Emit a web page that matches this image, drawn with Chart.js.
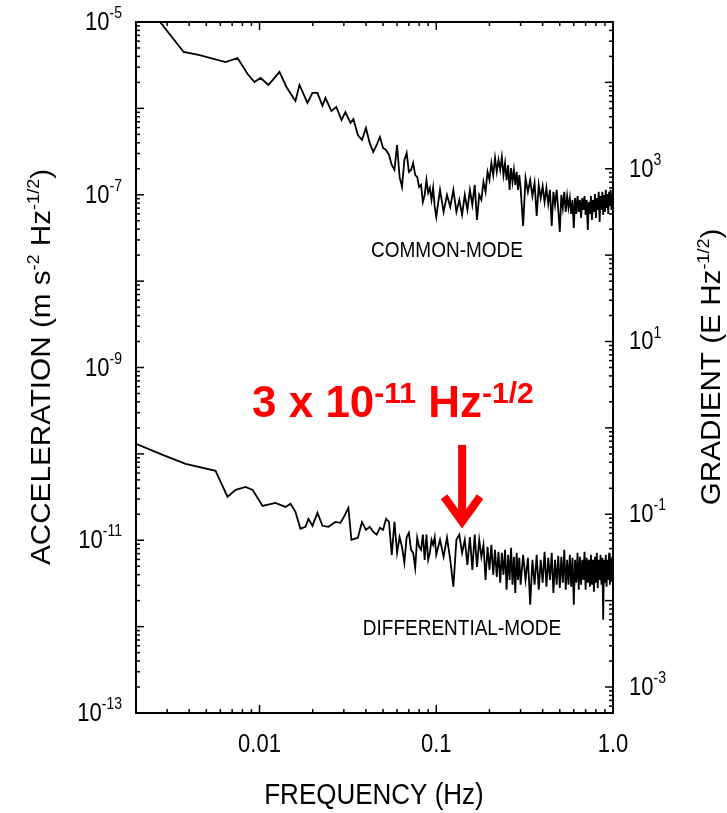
<!DOCTYPE html>
<html>
<head>
<meta charset="utf-8">
<script src="https://cdn.jsdelivr.net/npm/chart.js@4.4.1/dist/chart.umd.min.js"></script>
<style>
    body { margin: 0; background: #fff; }
    #grafico { display: block; }
</style>
</head>
<body>
<canvas id="grafico" width="727" height="813"></canvas>
<script>

/*
* Dados (Hz e m s^-2 Hz^-1/2)
*/
const cmFreq = [0.00242, 0.00372, 0.00452, 0.00643, 0.00751, 0.00856, 0.00937, 0.01013, 0.01124, 0.01297,
    0.0142, 0.01597, 0.01683, 0.01867, 0.01993, 0.02127, 0.0227, 0.0236, 0.0255, 0.0272,
    0.0291, 0.0306, 0.0327, 0.03397]
const cmAccel = [1.38e-5, 4.50e-6, 4.15e-6, 3.44e-6, 3.83e-6, 2.50e-6, 2.02e-6, 2.25e-6, 1.87e-6, 2.64e-6,
    1.77e-6, 1.22e-6, 1.87e-6, 1.155e-6, 1.51e-6, 1.51e-6, 1.07e-6, 1.32e-6, 9.3e-7, 1.04e-6,
    7.34e-7, 9.08e-7, 6.78e-7, 7.53e-7]

const dmFreq = [0.002, 0.00283, 0.00382, 0.00564, 0.00659, 0.00732, 0.00834, 0.00913, 0.0104, 0.01231,
    0.01403, 0.01497, 0.01597, 0.01704, 0.01819, 0.01891, 0.01993, 0.02127, 0.0227, 0.02454,
    0.02688, 0.0287, 0.02983, 0.03183, 0.0331]
const dmAccel = [1.305e-10, 9.74e-11, 7.66e-11, 6.36e-11, 3.18e-11, 3.83e-11, 4.15e-11, 3.83e-11, 2.50e-11, 2.71e-11,
    2.43e-11, 2.64e-11, 2.13e-11, 1.36e-11, 1.43e-11, 1.77e-11, 1.47e-11, 2.08e-11, 1.47e-11, 1.43e-11,
    1.63e-11, 1.59e-11, 1.82e-11, 2.37e-11, 1.01e-11]

// parte densa do espectro (mesmas frequencias para os dois modos)
const bandFreq = [
    0.036, 0.038, 0.040, 0.042, 0.044, 0.046, 0.048, 0.050, 0.052, 0.054, 0.056, 0.058, 0.060, 0.062, 0.064, 0.066,
    0.068, 0.070, 0.072, 0.074, 0.076, 0.078, 0.080, 0.082, 0.084, 0.086, 0.088, 0.090, 0.092, 0.094, 0.096, 0.098, 0.100,
    0.105, 0.110, 0.115, 0.120, 0.125, 0.130, 0.135, 0.140, 0.145, 0.150, 0.155, 0.160, 0.165, 0.170, 0.175, 0.180,
    0.185, 0.190, 0.195, 0.200, 0.205, 0.210, 0.215, 0.220, 0.225, 0.230, 0.235, 0.240, 0.245, 0.250, 0.255, 0.260,
    0.265, 0.270, 0.275, 0.280, 0.285, 0.290, 0.295, 0.300,
    0.31, 0.32, 0.33, 0.34, 0.35, 0.36, 0.37, 0.38, 0.39, 0.40, 0.41, 0.42, 0.43, 0.44, 0.45, 0.46, 0.47, 0.48, 0.49, 0.50,
    0.51, 0.52, 0.53, 0.54, 0.55, 0.56, 0.57, 0.58, 0.59, 0.60, 0.61, 0.62, 0.63, 0.64, 0.65, 0.66, 0.67, 0.68, 0.69, 0.70,
    0.71, 0.72, 0.73, 0.74, 0.75, 0.76, 0.77, 0.78, 0.79, 0.80, 0.81, 0.82, 0.83, 0.84, 0.85, 0.86, 0.87, 0.88, 0.89, 0.90,
    0.91, 0.92, 0.93, 0.94, 0.95, 0.96, 0.97, 0.98, 0.99, 1.00]

const cmBand = [
    4.92e-7, 4.31e-7, 5.93e-7, 3.98e-7, 3.13e-7, 3.77e-7, 4.67e-7, 3.48e-7, 3.30e-7, 2.89e-7, 2.21e-7,
    1.94e-7, 3.77e-7, 1.61e-7, 1.23e-7, 2.53e-7, 3.05e-7, 1.84e-7, 1.94e-7, 2.33e-7, 1.69e-7, 1.61e-7,
    1.23e-7, 1.30e-7, 8.25e-8, 9.95e-8, 1.48e-7, 1.05e-7, 1.20e-7, 8.71e-8, 1.20e-7, 7.23e-8, 5.53e-8,
    1.14e-7, 6.32e-8, 9.95e-8, 7.23e-8, 1.14e-7, 6.32e-8, 8.71e-8, 5.84e-8, 9.95e-8, 6.67e-8,
    1.14e-7, 7.62e-8, 1.30e-7, 5.11e-8, 9.95e-8, 8.71e-8, 1.41e-7, 1.08e-7, 1.84e-7, 1.48e-7,
    2.33e-7, 1.69e-7, 2.67e-7, 1.84e-7, 2.53e-7, 1.94e-7, 2.74e-7, 1.69e-7, 2.33e-7, 1.48e-7,
    2.21e-7, 1.14e-7, 2.04e-7, 1.41e-7, 1.94e-7, 1.30e-7, 1.84e-7, 1.14e-7, 1.69e-7, 1.20e-7,
    4.35e-8, 1.56e-7, 1.08e-7, 1.48e-7, 9.68e-8, 1.37e-7, 5.68e-8, 1.30e-7, 9.18e-8, 1.26e-7,
    8.25e-8, 1.20e-7, 7.82e-8, 1.14e-7, 4.35e-8, 1.08e-7, 7.62e-8, 1.14e-7, 6.67e-8, 3.71e-8,
    9.95e-8, 7.04e-8, 1.08e-7, 6.32e-8, 9.68e-8, 7.04e-8, 9.18e-8, 6.0e-8, 8.71e-8, 4.13e-8,
    9.18e-8, 6.0e-8, 9.68e-8, 6.32e-8, 8.71e-8, 5.39e-8, 9.18e-8, 6.67e-8, 9.68e-8, 5.84e-8,
    8.71e-8, 3.91e-8, 8.25e-8, 6.0e-8, 9.68e-8, 5.11e-8, 8.71e-8, 6.32e-8, 1.02e-7, 5.39e-8,
    9.18e-8, 6.67e-8, 1.08e-7, 4.84e-8, 9.68e-8, 6.67e-8, 1.08e-7, 5.84e-8, 9.95e-8, 6.32e-8,
    1.14e-7, 7.04e-8, 1.02e-7, 6.0e-8, 1.08e-7, 7.42e-8, 1.14e-7, 6.67e-8, 9.95e-8, 7.62e-8]

const dmBand = [
    1.07e-11, 1.63e-11, 1.32e-11, 1.43e-11, 1.25e-11, 1.16e-11, 1.39e-11, 1.32e-11, 1.77e-11, 1.63e-11,
    6.77e-12, 1.63e-11, 7.14e-12, 1.09e-11, 8.38e-12, 5.48e-12, 1.09e-11, 1.22e-11, 7.74e-12, 7.14e-12,
    4.79e-12, 1.07e-11, 8.38e-12, 7.74e-12, 1.16e-11, 5.93e-12, 1.16e-11, 5.93e-12, 7.14e-12, 1.01e-11,
    8.85e-12, 1.09e-11, 6.77e-12,
    1.01e-11, 6.42e-12, 1.07e-11, 5.93e-12, 2.89e-12, 1.01e-11, 1.16e-11, 7.14e-12, 1.01e-11, 5.19e-12,
    1.09e-11, 4.54e-12, 1.16e-11, 4.92e-12, 1.01e-11, 6.42e-12, 8.85e-12, 3.48e-12, 8.38e-12, 4.54e-12,
    8.85e-12, 3.98e-12, 7.74e-12, 3.77e-12, 7.34e-12, 3.22e-12, 7.14e-12, 3.98e-12, 7.74e-12, 2.67e-12,
    6.77e-12, 3.48e-12, 8.17e-12, 3.05e-12, 6.42e-12, 2.46e-12, 7.14e-12, 3.48e-12, 6.25e-12, 3.05e-12,
    6.77e-12, 3.48e-12, 6.25e-12, 1.79e-12, 5.93e-12, 3.05e-12, 6.77e-12, 2.67e-12, 5.93e-12, 3.22e-12,
    7.34e-12, 2.89e-12, 6.25e-12, 3.48e-12, 7.14e-12, 2.46e-12, 5.93e-12, 3.05e-12, 6.59e-12, 2.81e-12,
    6.42e-12, 3.22e-12, 7.74e-12, 2.67e-12, 5.93e-12, 3.05e-12, 6.77e-12, 2.89e-12, 6.25e-12, 1.79e-12,
    5.93e-12, 3.22e-12, 7.14e-12, 2.67e-12, 6.42e-12, 3.05e-12, 5.93e-12, 3.48e-12, 7.34e-12, 2.67e-12,
    6.25e-12, 3.22e-12, 5.93e-12, 2.89e-12, 6.77e-12, 3.05e-12, 5.93e-12, 2.53e-12, 6.42e-12, 3.22e-12,
    7.14e-12, 2.81e-12, 5.93e-12, 3.48e-12, 6.77e-12, 3.05e-12, 6.25e-12, 1.20e-12, 5.93e-12, 3.22e-12,
    6.77e-12, 2.89e-12, 5.93e-12, 3.48e-12, 7.14e-12, 3.05e-12, 5.93e-12, 3.30e-12, 6.42e-12, 3.98e-12]

// rotulos dos eixos
const accelLabelExps = [-5, -7, -9, -11, -13]
const gradientLabelExps = [3, 1, -1, -3]
const freqTickValues = [0.01, 0.1, 1]
const freqTickLabels = ['0.01', '0.1', '1.0']

// seta vermelha (frequencia, de, ate)
const arrowFreq = 0.14
const arrowFrom = 1.27e-10
const arrowTo = 1.4e-11

const FONTE = '"Liberation Sans", Arial, Helvetica, sans-serif'

const juntar = (freqs, vals) => freqs.map((f, i) => ({ x: f, y: vals[i] }))

const dadosCM = juntar(cmFreq, cmAccel).concat(juntar(bandFreq, cmBand))
const dadosDM = juntar(dmFreq, dmAccel).concat(juntar(bandFreq, dmBand))


/*
* Texto com expoentes: parts = [[texto, tamanho, subida], ...]
*/
const textoRico = (ctx, parts, x, y, o = {}) => {
    ctx.save()
    ctx.translate(x, y)
    if (o.rotate) ctx.rotate(o.rotate)
    ctx.scale(o.sx || 1, o.sy || 1)
    const peso = o.bold ? 'bold ' : ''
    let total = 0
    parts.forEach(p => {
        ctx.font = peso + p[1] + 'px ' + FONTE
        total += ctx.measureText(p[0]).width
    })
    let cx = o.align === 'right' ? -total : (o.align === 'center' ? -total / 2 : 0)
    ctx.fillStyle = o.color || '#000'
    ctx.textBaseline = 'alphabetic'
    ctx.textAlign = 'left'
    parts.forEach(p => {
        ctx.font = peso + p[1] + 'px ' + FONTE
        ctx.fillText(p[0], cx, -p[2])
        cx += ctx.measureText(p[0]).width
    })
    ctx.restore()
}

// marcas 1..9 x 10^k dentro do intervalo
const marcasLog = (min, max) => {
    const lista = []
    for (let k = Math.floor(Math.log10(min)); k <= Math.ceil(Math.log10(max)); k++) {
        for (let n = 1; n <= 9; n++) {
            const v = n * Math.pow(10, k)
            if (v >= min * 0.999 && v <= max * 1.001) lista.push({ v: v, major: n === 1 })
        }
    }
    return lista
}

const molduraEixos = {
    id: 'molduraEixos',
    afterDraw(chart) {
        const ctx = chart.ctx
        const a = chart.chartArea
        const sx = chart.scales.x, sy = chart.scales.y, sy2 = chart.scales.y2

        ctx.save()
        ctx.strokeStyle = '#000'
        ctx.lineWidth = 1.5
        const linha = (x1, y1, x2, y2) => { ctx.beginPath(); ctx.moveTo(x1, y1); ctx.lineTo(x2, y2); ctx.stroke() }

        marcasLog(sx.min, sx.max).forEach(t => {
            const px = sx.getPixelForValue(t.v)
            const len = t.major ? 8 : 4
            linha(px, a.bottom, px, a.bottom - len)
            linha(px, a.top, px, a.top + len)
        })
        marcasLog(sy.min, sy.max).forEach(t => {
            const py = sy.getPixelForValue(t.v)
            linha(a.left, py, a.left + (t.major ? 8 : 4), py)
        })
        marcasLog(sy2.min, sy2.max).forEach(t => {
            const py = sy2.getPixelForValue(t.v)
            linha(a.right, py, a.right - (t.major ? 8 : 4), py)
        })

        ctx.lineWidth = 2
        ctx.strokeRect(a.left, a.top, a.right - a.left, a.bottom - a.top)

        // rotulos
        accelLabelExps.forEach(e => {
            const py = sy.getPixelForValue(Math.pow(10, e))
            textoRico(ctx, [['10', 22, 0], [String(e), 14, 10]], a.left - 14, py + 8, { align: 'right', sy: 1.18 })
        })
        gradientLabelExps.forEach(e => {
            const py = sy2.getPixelForValue(Math.pow(10, e))
            textoRico(ctx, [['10', 22, 0], [String(e), 14, 10]], a.right + 16, py + 8, { align: 'left', sy: 1.18 })
        })
        freqTickValues.forEach((v, i) => {
            const px = sx.getPixelForValue(v)
            textoRico(ctx, [[freqTickLabels[i], 22, 0]], px, a.bottom + 39, { align: 'center', sy: 1.18 })
        })

        // titulos
        textoRico(ctx, [['FREQUENCY (Hz)', 26, 0]], 374, 804, { align: 'center', sy: 1.1 })
        textoRico(ctx, [['ACCELERATION (m s', 28, 0], ['-2', 17, 11], [' Hz', 28, 0], ['-1/2', 17, 11], [')', 28, 0]],
            50, 367, { align: 'center', rotate: -Math.PI / 2, sx: 1.06 })
        textoRico(ctx, [['GRADIENT (E Hz', 28, 0], ['-1/2', 17, 11], [')', 28, 0]],
            720, 367, { align: 'center', rotate: -Math.PI / 2, sx: 1.06 })

        textoRico(ctx, [['COMMON-MODE', 19, 0]], 447, 257, { align: 'center', sy: 1.15 })
        textoRico(ctx, [['DIFFERENTIAL-MODE', 19, 0]], 462, 635, { align: 'center', sy: 1.15 })

        // anotacao vermelha
        textoRico(ctx, [['3 x 10', 44, 0], ['-11', 30, 14], [' Hz', 44, 0], ['-1/2', 30, 14]],
            252, 417, { bold: true, color: '#ff0000' })

        const ax = sx.getPixelForValue(arrowFreq)
        const ay1 = sy.getPixelForValue(arrowFrom)
        const ay2 = sy.getPixelForValue(arrowTo)
        ctx.strokeStyle = '#ff0000'
        ctx.lineWidth = 8
        ctx.lineJoin = 'miter'
        ctx.lineCap = 'butt'
        linha(ax, ay1, ax, ay2 - 6)
        ctx.beginPath()
        ctx.moveTo(ax - 18, ay2 - 31)
        ctx.lineTo(ax, ay2 - 6)
        ctx.lineTo(ax + 18, ay2 - 31)
        ctx.stroke()

        ctx.restore()
    }
}

const ctx = document.getElementById('grafico').getContext('2d')

const grafico = new Chart(ctx, {
    type: 'line',
    data: {
        datasets: [
            {
                label: 'COMMON-MODE',
                data: dadosCM,
                borderColor: '#000',
                borderWidth: 1.8,
                yAxisID: 'y'
            },
            {
                label: 'DIFFERENTIAL-MODE',
                data: dadosDM,
                borderColor: '#000',
                borderWidth: 1.8,
                yAxisID: 'y'
            }
        ]
    },
    options: {
        responsive: false,
        animation: false,
        devicePixelRatio: 1,
        layout: {
            padding: { left: 136, right: 114, top: 22, bottom: 100 }
        },
        elements: {
            point: { radius: 0 },
            line: { tension: 0 }
        },
        plugins: {
            legend: { display: false },
            tooltip: { enabled: false },
            title: { display: false }
        },
        scales: {
            x: { type: 'logarithmic', min: 0.002, max: 1, display: false },
            y: { type: 'logarithmic', min: 1e-13, max: 1e-5, display: false },
            // E Hz^-1/2 = aceleracao x 5e9
            y2: { type: 'logarithmic', position: 'right', min: 5e-4, max: 5e4, display: false }
        }
    },
    plugins: [molduraEixos]
})

</script>
</body>
</html>
